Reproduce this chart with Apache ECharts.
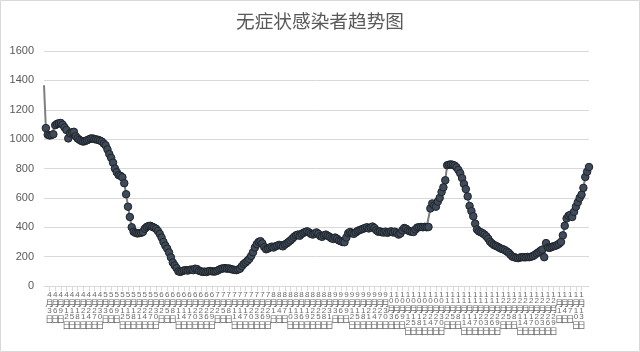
<!DOCTYPE html>
<html>
<head>
<meta charset="utf-8">
<script src="https://cdn.jsdelivr.net/npm/echarts@6/dist/echarts.min.js"></script>
<style>
  html, body { margin: 0; padding: 0; background: #fff; }
  #chart { width: 640px; height: 352px; }
</style>
</head>
<body>
<div id="chart"></div>
<script>
var titleText = '无症状感染者趋势图';
var startDate = '2020-03-31'; // 第一个类目
var yTicks = [0, 200, 400, 600, 800, 1000, 1200, 1400, 1600];

// 每日数值
var counts = [
    1367, 1075, 1030, 1025, 1028, 1033, 1095, 1104, 1108, 1110,
    1098, 1080, 1062, 1005, 1040, 1047, 1050, 1020, 1005, 995,
    988, 983, 987, 992, 998, 1004, 1005, 1000, 998, 995,
    990, 983, 970, 958, 930, 898, 872, 840, 800, 775,
    755, 750, 740, 700, 625, 540, 470, 400, 370, 362,
    358, 360, 362, 368, 390, 402, 408, 410, 403, 398,
    390, 375, 355, 330, 300, 275, 255, 228, 195, 160,
    140, 122, 100, 96, 102, 106, 108, 105, 110, 112,
    108, 118, 115, 104, 100, 96, 98, 95, 100, 102,
    100, 98, 100, 105, 112, 118, 120, 122, 118, 120,
    116, 112, 110, 108, 112, 118, 135, 150, 160, 172,
    185, 205, 230, 262, 285, 300, 305, 290, 265, 250,
    255, 262, 268, 262, 270, 275, 280, 276, 270, 282,
    290, 300, 310, 322, 335, 345, 350, 342, 355, 362,
    368, 372, 365, 355, 350, 358, 365, 355, 340, 335,
    345, 350, 342, 335, 325, 320, 330, 322, 310, 305,
    300, 298, 330, 360, 368, 360, 355, 365, 375, 380,
    385, 390, 395, 400, 392, 398, 405, 395, 380, 370,
    372, 366, 364, 370, 362, 368, 372, 365, 370, 360,
    350, 358, 380, 395, 390, 378, 372, 370, 368, 385,
    398, 400, 402, 400, 403, 400, 402, 528, 562, 548,
    540, 575, 600, 640, 672, 720, 822, 826, 828, 825,
    820, 808, 790, 768, 735, 695, 660, 610, 545, 510,
    475, 425, 385, 372, 366, 360, 350, 338, 322, 302,
    290, 280, 274, 268, 260, 254, 250, 244, 235, 226,
    212, 200, 196, 192, 190, 194, 196, 196, 195, 198,
    196, 200, 204, 212, 222, 230, 240, 248, 196, 292,
    262, 260, 266, 270, 274, 280, 288, 300, 345, 410,
    460, 478, 485, 470, 505, 540, 570, 600, 622, 668,
    742, 778, 810
];

// 日期类目 "4月1日"
var dates = [];
var d0 = new Date(startDate + 'T00:00:00');
for (var i = 0; i < counts.length; i++) {
    var d = new Date(d0.getTime() + i * 86400000);
    dates.push((d.getMonth() + 1) + '月' + d.getDate() + '日');
}

// 竖排标签：数字用小号
function verticalLabel(val) {
    var out = [];
    for (var k = 0; k < val.length; k++) {
        var ch = val.charAt(k);
        if (/[0-9]/.test(ch)) {
            out.push('{d|' + ch + '}');
        } else {
            out.push('{c|' + ch + '}');
        }
    }
    return out.join('\n');
}

var seriesData = [];
for (var j = 0; j < counts.length; j++) {
    if (j == 0) {
        seriesData.push({ value: counts[j], symbol: 'none' });
    } else {
        seriesData.push(counts[j]);
    }
}

var chart = echarts.init(document.getElementById('chart'));
chart.setOption({
    animation: false,
    backgroundColor: '#fff',
    textStyle: { fontFamily: '"Noto Sans CJK SC", "Liberation Sans", sans-serif' },
    title: {
        text: titleText,
        left: 'center',
        top: 7,
        textStyle: {
            fontSize: 18.67,
            fontWeight: 'normal',
            color: '#595959',
            fontFamily: '"Noto Sans CJK SC", sans-serif'
        }
    },
    graphic: [{
        type: 'rect',
        shape: { x: 0.5, y: 0.5, width: 639, height: 351 },
        style: { fill: 'none', stroke: '#d9d9d9', lineWidth: 1 },
        silent: true
    }],
    grid: { left: 44, right: 51, top: 51, bottom: 66 },
    xAxis: {
        type: 'category',
        data: dates,
        boundaryGap: false,
        axisLine: { lineStyle: { color: '#d9d9d9', width: 1 } },
        axisTick: {
            show: true,
            interval: 2,
            length: 5,
            lineStyle: { color: '#d9d9d9' }
        },
        axisLabel: {
            interval: 2,
            margin: 6,
            color: '#595959',
            formatter: verticalLabel,
            rich: {
                d: { fontSize: 8, lineHeight: 6, color: '#6a6a6a', fontFamily: '"Liberation Sans", sans-serif' },
                c: { fontSize: 8.5, lineHeight: 10, color: '#6a6a6a', fontFamily: '"Noto Sans CJK SC", sans-serif' }
            }
        },
        splitLine: { show: false }
    },
    yAxis: {
        type: 'value',
        min: yTicks[0],
        max: yTicks[yTicks.length - 1],
        interval: 200,
        axisLine: { show: false },
        axisTick: { show: false },
        axisLabel: {
            fontSize: 11,
            color: '#595959',
            margin: 10,
            fontFamily: '"Liberation Sans", sans-serif',
            formatter: function(v) { return String(v); }
        },
        splitLine: { lineStyle: { color: '#d9d9d9', width: 1 } }
    },
    series: [{
        name: '无症状感染者',
        type: 'line',
        data: seriesData,
        symbol: 'circle',
        symbolSize: 7.5,
        showAllSymbol: true,
        lineStyle: { color: '#7f7f7f', width: 2 },
        itemStyle: { color: '#3f4b5b', borderColor: '#1e2328', borderWidth: 1 }
    }]
});
</script>
</body>
</html>
